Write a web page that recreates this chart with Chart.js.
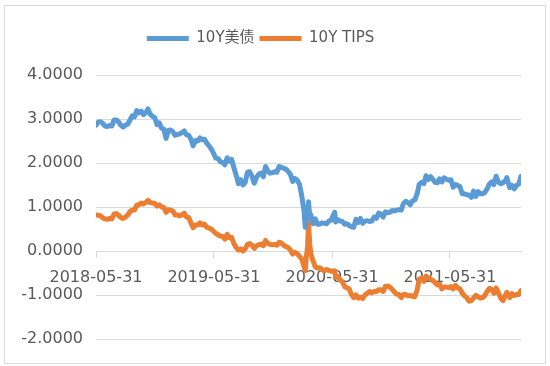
<!DOCTYPE html>
<html>
<head>
<meta charset="utf-8">
<script src="https://cdn.jsdelivr.net/npm/chart.js@4/dist/chart.umd.min.js"></script>
<style>
html,body{margin:0;padding:0;background:#fff;}
canvas{display:block;}
</style>
</head>
<body>
<canvas id="c" width="550" height="366"></canvas>
<script>
const seriesNames = ['10Y美债', '10Y TIPS'];
const tickDates = ['2018-05-31', '2019-05-31', '2020-05-31', '2021-05-31'];
const tickLabels = ['2018-05-31', '2019-05-31', '2020-05-31', '2021-05-31'];
const yTicks = [-2, -1, 0, 1, 2, 3, 4];

const dates = [
'2018-05-31','2018-06-07','2018-06-14','2018-06-21','2018-06-28','2018-07-05','2018-07-12','2018-07-19','2018-07-26','2018-08-02',
'2018-08-09','2018-08-16','2018-08-23','2018-08-30','2018-09-06','2018-09-13','2018-09-20','2018-09-27','2018-10-04','2018-10-11',
'2018-10-18','2018-10-25','2018-11-01','2018-11-08','2018-11-15','2018-11-22','2018-11-29','2018-12-06','2018-12-13','2018-12-20',
'2018-12-27','2019-01-03','2019-01-10','2019-01-17','2019-01-24','2019-01-31','2019-02-07','2019-02-14','2019-02-21','2019-02-28',
'2019-03-07','2019-03-14','2019-03-21','2019-03-28','2019-04-04','2019-04-11','2019-04-18','2019-04-25','2019-05-02','2019-05-09',
'2019-05-16','2019-05-23','2019-05-30','2019-06-06','2019-06-13','2019-06-20','2019-06-27','2019-07-04','2019-07-11','2019-07-18',
'2019-07-25','2019-08-01','2019-08-08','2019-08-15','2019-08-22','2019-08-29','2019-09-05','2019-09-12','2019-09-19','2019-09-26',
'2019-10-03','2019-10-10','2019-10-17','2019-10-24','2019-10-31','2019-11-07','2019-11-14','2019-11-21','2019-11-28','2019-12-05',
'2019-12-12','2019-12-19','2019-12-26','2020-01-02','2020-01-09','2020-01-16','2020-01-23','2020-01-30','2020-02-06','2020-02-13',
'2020-02-20','2020-02-27','2020-03-05','2020-03-09','2020-03-12','2020-03-16','2020-03-19','2020-03-23','2020-03-26','2020-04-02',
'2020-04-09','2020-04-16','2020-04-23','2020-04-30','2020-05-07','2020-05-14','2020-05-21','2020-05-28','2020-06-04','2020-06-08',
'2020-06-11','2020-06-18','2020-06-25','2020-07-02','2020-07-09','2020-07-16','2020-07-23','2020-07-30','2020-08-06','2020-08-13',
'2020-08-20','2020-08-27','2020-09-03','2020-09-10','2020-09-17','2020-09-24','2020-10-01','2020-10-08','2020-10-15','2020-10-22',
'2020-10-29','2020-11-05','2020-11-12','2020-11-19','2020-11-26','2020-12-03','2020-12-10','2020-12-17','2020-12-24','2020-12-31',
'2021-01-07','2021-01-14','2021-01-21','2021-01-28','2021-02-04','2021-02-11','2021-02-18','2021-02-25','2021-03-04','2021-03-11',
'2021-03-18','2021-03-25','2021-04-01','2021-04-08','2021-04-15','2021-04-22','2021-04-29','2021-05-06','2021-05-13','2021-05-20',
'2021-05-27','2021-06-03','2021-06-10','2021-06-17','2021-06-24','2021-07-01','2021-07-08','2021-07-15','2021-07-22','2021-07-29',
'2021-08-05','2021-08-12','2021-08-19','2021-08-26','2021-09-02','2021-09-09','2021-09-16','2021-09-23','2021-09-30','2021-10-07',
'2021-10-14','2021-10-21','2021-10-28','2021-11-04','2021-11-11','2021-11-18','2021-11-23','2021-12-02','2021-12-09','2021-12-16',
'2021-12-23','2021-12-30','2022-01-06'
];

const ust10y = [
2.86,2.93,2.94,2.90,2.84,2.83,2.85,2.84,2.98,2.98,
2.93,2.86,2.82,2.86,2.88,2.97,3.07,3.05,3.19,3.14,
3.18,3.10,3.14,3.23,3.11,3.06,3.03,2.87,2.91,2.79,
2.77,2.56,2.74,2.75,2.71,2.63,2.65,2.66,2.69,2.73,
2.64,2.63,2.54,2.39,2.51,2.50,2.57,2.53,2.54,2.45,
2.39,2.32,2.22,2.11,2.10,2.03,2.01,1.96,2.12,2.04,
2.08,1.89,1.72,1.53,1.62,1.50,1.56,1.79,1.80,1.70,
1.54,1.67,1.75,1.77,1.69,1.92,1.82,1.77,1.78,1.80,
1.79,1.92,1.90,1.88,1.86,1.81,1.74,1.58,1.65,1.61,
1.52,1.26,0.92,0.54,0.82,0.73,1.12,0.76,0.83,0.62,
0.73,0.61,0.61,0.64,0.63,0.62,0.68,0.70,0.82,0.88,
0.66,0.71,0.68,0.67,0.61,0.62,0.58,0.55,0.54,0.72,
0.65,0.74,0.63,0.68,0.69,0.67,0.68,0.77,0.74,0.86,
0.84,0.77,0.89,0.87,0.88,0.92,0.91,0.93,0.94,0.93,
1.08,1.13,1.10,1.05,1.14,1.16,1.29,1.52,1.56,1.53,
1.71,1.63,1.69,1.63,1.56,1.55,1.64,1.57,1.66,1.63,
1.61,1.62,1.45,1.51,1.49,1.46,1.30,1.30,1.28,1.27,
1.22,1.36,1.24,1.35,1.30,1.30,1.33,1.41,1.52,1.57,
1.51,1.70,1.57,1.53,1.55,1.59,1.67,1.44,1.49,1.41,
1.49,1.52,1.70
];

const tips10y = [
0.82,0.81,0.80,0.75,0.73,0.72,0.74,0.73,0.84,0.85,
0.81,0.76,0.74,0.77,0.82,0.89,0.93,0.93,1.04,1.05,
1.09,1.07,1.10,1.15,1.10,1.09,1.08,1.02,1.05,1.00,
0.99,0.88,0.94,0.93,0.91,0.82,0.82,0.80,0.82,0.86,
0.77,0.76,0.64,0.53,0.59,0.59,0.64,0.59,0.61,0.54,
0.52,0.50,0.45,0.40,0.37,0.34,0.33,0.27,0.38,0.30,
0.31,0.17,0.08,0.02,0.05,0.00,0.05,0.15,0.17,0.13,
0.06,0.12,0.14,0.16,0.12,0.24,0.17,0.15,0.14,0.15,
0.13,0.20,0.18,0.13,0.10,0.08,0.02,-0.07,-0.03,-0.06,
-0.12,-0.18,-0.35,-0.45,-0.15,0.08,0.64,0.15,-0.05,-0.22,
-0.36,-0.39,-0.38,-0.42,-0.45,-0.42,-0.44,-0.46,-0.46,-0.45,
-0.60,-0.58,-0.66,-0.70,-0.81,-0.84,-0.86,-0.99,-1.06,-1.00,
-1.07,-1.05,-1.08,-1.00,-0.96,-0.92,-0.95,-0.92,-0.92,-0.88,
-0.88,-0.92,-0.80,-0.80,-0.82,-0.87,-0.93,-0.98,-0.99,-1.06,
-0.99,-0.99,-1.02,-1.01,-1.03,-1.04,-0.90,-0.64,-0.62,-0.69,
-0.57,-0.63,-0.64,-0.67,-0.72,-0.77,-0.75,-0.86,-0.82,-0.82,
-0.83,-0.81,-0.86,-0.78,-0.84,-0.86,-0.96,-1.02,-1.06,-1.14,
-1.13,-1.07,-1.01,-1.04,-1.07,-1.06,-1.01,-0.92,-0.85,-0.87,
-0.96,-0.84,-0.95,-1.07,-1.13,-1.02,-0.94,-1.06,-0.97,-1.01,
-0.99,-0.99,-0.90
];

const BASE = Date.parse('2018-05-31');
const dayOf = s => Math.round((Date.parse(s) - BASE) / 86400000);
const tickDays = tickDates.map(dayOf);
const pts = arr => arr.map((v, i) => ({x: dayOf(dates[i]), y: v}));

const FONT = "'DejaVu Sans', 'Noto Sans CJK SC', sans-serif";
const GRID = '#d9d9d9';
const TEXT = '#595959';

const frame = {
  id: 'frame',
  beforeDraw(chart) {
    const ctx = chart.ctx;
    ctx.save();
    ctx.fillStyle = '#fff';
    ctx.fillRect(0, 0, chart.width, chart.height);
    ctx.strokeStyle = '#d9d9d9';
    ctx.lineWidth = 1;
    ctx.strokeRect(4.5, 5.5, 541, 358);
    ctx.restore();
  }
};

const legendSpacer = {
  id: 'legendSpacer',
  beforeLayout(chart) {
    const lg = chart.legend;
    if (lg && !lg._spacer) {
      const orig = lg.fit;
      lg.fit = function () { orig.call(this); this.height += 19; };
      lg._spacer = true;
    }
  }
};

new Chart(document.getElementById('c'), {
  type: 'line',
  data: {
    datasets: [
      {label: seriesNames[0], data: pts(ust10y), borderColor: '#5B9BD5', backgroundColor: '#5B9BD5',
       borderWidth: 5, pointRadius: 0, borderCapStyle: 'round', borderJoinStyle: 'round', tension: 0},
      {label: seriesNames[1], data: pts(tips10y), borderColor: '#ED7D31', backgroundColor: '#ED7D31',
       borderWidth: 5, pointRadius: 0, borderCapStyle: 'round', borderJoinStyle: 'round', tension: 0}
    ]
  },
  options: {
    responsive: false,
    animation: false,
    devicePixelRatio: 1,
    layout: {padding: {left: 0, right: 29, top: 26, bottom: 27}},
    plugins: {
      legend: {
        position: 'top',
        labels: {
          usePointStyle: true, pointStyle: 'line', pointStyleWidth: 42,
          font: {family: FONT, size: 15}, color: TEXT, padding: 5
        }
      },
      tooltip: {enabled: false}
    },
    scales: {
      x: {
        type: 'linear',
        position: {y: 0},
        min: 0,
        max: dayOf(dates[dates.length - 1]),
        afterBuildTicks: s => { s.ticks = tickDays.map(v => ({value: v})); },
        ticks: {
          autoSkip: false, maxRotation: 0, padding: 11,
          font: {family: FONT, size: 16}, color: TEXT,
          callback: v => { const i = tickDays.indexOf(v); return i >= 0 ? tickLabels[i] : ''; }
        },
        grid: {drawOnChartArea: false, drawTicks: true, tickLength: 6, color: GRID},
        border: {display: true, color: GRID}
      },
      y: {
        min: -2, max: 4,
        afterBuildTicks: s => { s.ticks = yTicks.map(v => ({value: v})); },
        afterFit: s => { s.width = 96; },
        ticks: {
          padding: 13, font: {family: FONT, size: 16}, color: TEXT,
          callback: v => Number(v).toFixed(4)
        },
        grid: {drawTicks: false, color: GRID},
        border: {display: false}
      }
    }
  },
  plugins: [frame, legendSpacer]
});
</script>
</body>
</html>
